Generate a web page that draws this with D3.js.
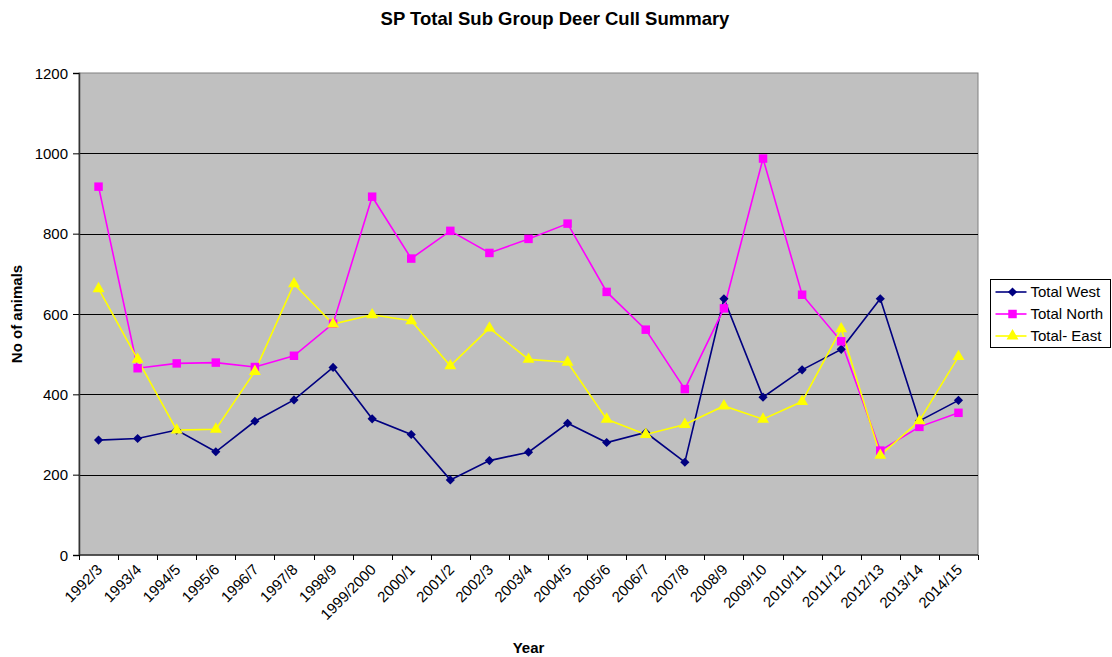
<!DOCTYPE html>
<html>
<head>
<meta charset="utf-8">
<script src="https://cdn.jsdelivr.net/npm/d3@7"></script>
<style>
  body { margin: 0; background: #fff; }
  text { font-family: "Liberation Sans", Arial, sans-serif; }
</style>
</head>
<body>
<div id="chart"></div>
<script>
var width = 1112;
var height = 657;
var margin = {top: 73, right: 134, bottom: 102, left: 79};

// categories on the x axis
var years = ["1992/3", "1993/4", "1994/5", "1995/6", "1996/7", "1997/8", "1998/9", "1999/2000",
  "2000/1", "2001/2", "2002/3", "2003/4", "2004/5", "2005/6", "2006/7", "2007/8", "2008/9",
  "2009/10", "2010/11", "2011/12", "2012/13", "2013/14", "2014/15"];

// values
var totalWest = [286, 290, 311, 257, 333, 386, 467, 339, 300, 187, 235, 256, 328, 280, 305, 231,
  638, 393, 461, 512, 638, 334, 385];
var totalNorth = [917, 465, 477, 479, 468, 496, 576, 892, 738, 807, 752, 787, 825, 655, 561, 413,
  614, 987, 648, 532, 260, 319, 354];
var totalEast = [663, 487, 311, 313, 457, 675, 575, 598, 583, 471, 565, 487, 480, 338, 300, 325,
  371, 338, 382, 563, 248, 334, 494];

var yTicks = [0, 200, 400, 600, 800, 1000, 1200];

// diamond = square turned 45 degrees
var series = [
  {name: "Total West", values: totalWest, color: "#000080", marker: d3.symbolSquare, size: 42, rot: 45},
  {name: "Total North", values: totalNorth, color: "#FF00FF", marker: d3.symbolSquare, size: 72, rot: 0},
  {name: "Total- East", values: totalEast, color: "#FFFF00", marker: d3.symbolTriangle, size: 62, rot: 0}
];

var svg = d3.select("#chart").append("svg")
  .attr("width", width)
  .attr("height", height);

var plotW = width - margin.left - margin.right;
var plotH = height - margin.top - margin.bottom;

var x = d3.scaleBand().domain(years).range([0, plotW]);
var y = d3.scaleLinear().domain([0, 1200]).range([plotH, 0]);

var g = svg.append("g")
  .attr("transform", `translate(${margin.left},${margin.top})`);

// plot background
g.append("rect")
  .attr("width", plotW)
  .attr("height", plotH)
  .attr("fill", "#C0C0C0")
  .attr("stroke", "#808080")
  .attr("stroke-width", 1);

// gridlines
g.selectAll(".grid").data(yTicks.slice(1, -1)).enter().append("line")
  .attr("x1", 0).attr("x2", plotW)
  .attr("y1", d => Math.round(y(d)) + 0.5).attr("y2", d => Math.round(y(d)) + 0.5)
  .attr("stroke", "#000").attr("stroke-width", 1);

// y axis
var yAxis = g.append("g")
  .call(d3.axisLeft(y).tickValues(yTicks).tickFormat(d3.format("d")).tickSize(6).tickPadding(5));
yAxis.select(".domain").attr("stroke", "#333").attr("stroke-width", 1.5);
yAxis.selectAll(".tick line").attr("stroke", "#000");
yAxis.selectAll("text").attr("font-size", "15px").attr("fill", "#000").attr("dy", "0.35em");

// x axis: ticks on category boundaries
var xAxis = g.append("g").attr("transform", `translate(0,${plotH})`);
xAxis.append("line")
  .attr("x1", 0).attr("x2", plotW).attr("y1", 0).attr("y2", 0)
  .attr("stroke", "#333").attr("stroke-width", 1.5);
var bounds = years.map(d => x(d)).concat([plotW]);
xAxis.selectAll(".tk").data(bounds).enter().append("line")
  .attr("x1", d => Math.round(d) + 0.5).attr("x2", d => Math.round(d) + 0.5)
  .attr("y1", 0).attr("y2", 5)
  .attr("stroke", "#000");
xAxis.selectAll(".lbl").data(years).enter().append("text")
  .attr("text-anchor", "end")
  .attr("font-size", "15px")
  .attr("transform", d => `translate(${x(d) + x.bandwidth() / 2 + 1},${12}) rotate(-45)`)
  .attr("dy", "0.35em")
  .text(d => d);

// lines and markers
var line = d3.line()
  .x((d, i) => x(years[i]) + x.bandwidth() / 2)
  .y(d => y(d));

series.forEach(function (s) {
  g.append("path")
    .datum(s.values)
    .attr("fill", "none")
    .attr("stroke", s.color)
    .attr("stroke-width", 1.6)
    .attr("d", line);
});
series.forEach(function (s) {
  g.selectAll(null).data(s.values).enter().append("path")
    .attr("d", d3.symbol().type(s.marker).size(s.size))
    .attr("transform", (d, i) => `translate(${x(years[i]) + x.bandwidth() / 2},${y(d)}) rotate(${s.rot})`)
    .attr("fill", s.color);
});

// title and axis labels
svg.append("text")
  .attr("x", 555).attr("y", 25)
  .attr("text-anchor", "middle")
  .attr("font-size", "18.5px")
  .attr("font-weight", "bold")
  .text("SP Total Sub Group Deer Cull Summary");

svg.append("text")
  .attr("transform", `translate(22,${margin.top + plotH / 2}) rotate(-90)`)
  .attr("text-anchor", "middle")
  .attr("font-size", "15px")
  .attr("font-weight", "bold")
  .text("No of animals");

svg.append("text")
  .attr("x", margin.left + plotW / 2).attr("y", 653)
  .attr("text-anchor", "middle")
  .attr("font-size", "15px")
  .attr("font-weight", "bold")
  .text("Year");

// legend
var legend = svg.append("g").attr("transform", "translate(990.5,279.5)");
legend.append("rect")
  .attr("width", 120).attr("height", 68)
  .attr("fill", "#fff").attr("stroke", "#000");
var item = legend.selectAll(".item").data(series).enter().append("g")
  .attr("transform", (d, i) => `translate(0,${12.5 + i * 22})`);
item.append("line")
  .attr("x1", 5).attr("x2", 36).attr("y1", 0).attr("y2", 0)
  .attr("stroke", d => d.color).attr("stroke-width", 1.6);
item.append("path")
  .attr("d", d => d3.symbol().type(d.marker).size(d.size)())
  .attr("transform", d => `translate(22,0) rotate(${d.rot})`)
  .attr("fill", d => d.color);
item.append("text")
  .attr("x", 40).attr("y", 0).attr("dy", "0.35em")
  .attr("font-size", "15px")
  .text(d => d.name);
</script>
</body>
</html>
